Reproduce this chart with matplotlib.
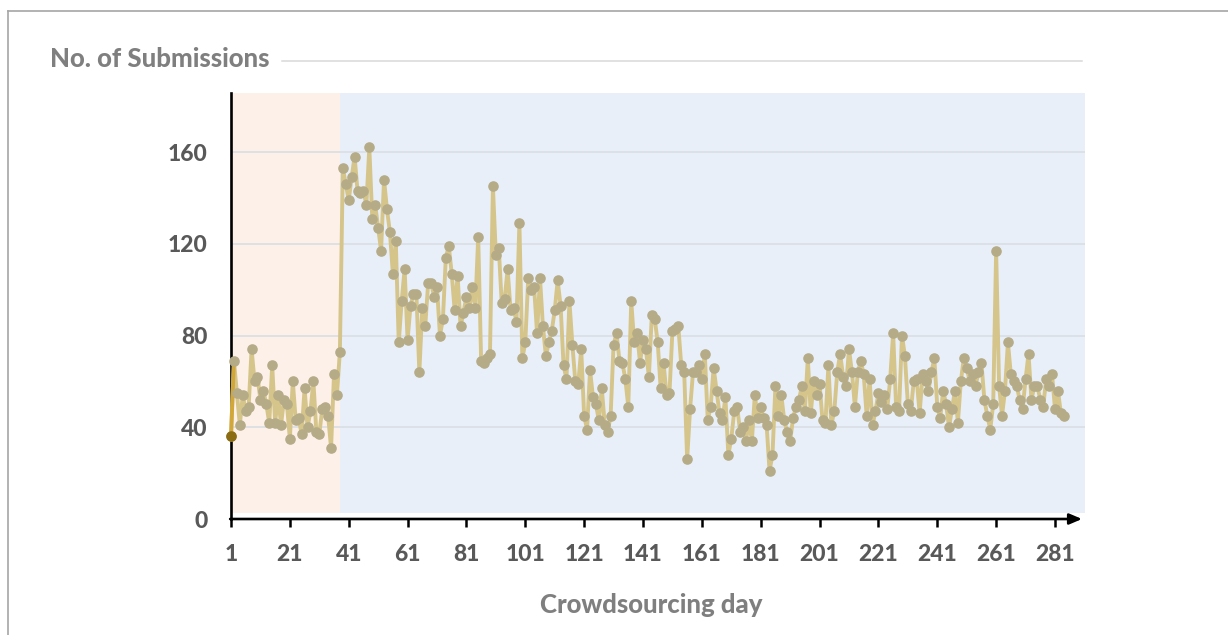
import matplotlib
matplotlib.use("Agg")
import matplotlib.pyplot as plt
from matplotlib.lines import Line2D
import numpy as np

# Daily submission counts, day 1 onwards
submissions = [
    36, 69, 55, 41, 54, 47, 49, 74, 60, 62, 52, 56, 50, 42, 67, 42, 54, 41, 52, 50,
    35, 60, 43, 44, 37, 57, 40, 47, 60, 38, 37, 48, 49, 45, 31, 63, 54, 73,
    153, 146, 139, 149, 158, 143, 142, 143, 137, 162, 131, 137, 127, 117, 148, 135,
    125, 107, 121, 77, 95, 109, 78, 93, 98, 98, 64, 92, 84, 103, 103, 97, 101, 80,
    87, 114, 119, 107, 91, 106,
    84, 90, 97, 92, 101, 92, 123, 69, 68, 70, 72,
    145, 115, 118, 94, 96, 109, 91, 92, 86, 129, 70, 77, 105, 100, 101, 81, 105, 84,
    71, 77, 82, 91, 104, 93, 67, 61, 95,
    76, 60, 59, 74, 45, 39, 65, 53, 50, 43, 57, 41, 38, 45, 76, 81, 69, 68, 61, 49,
    95, 77, 81, 68, 78, 74, 62, 89, 87, 77, 57, 68, 54, 55, 82, 83, 84, 67, 64, 26, 48,
    64, 64, 67, 61, 72, 43, 49, 66, 56, 46, 43, 53, 28, 35, 47, 49, 38, 40, 34, 43,
    34, 54, 44, 49, 44, 41, 21, 28, 58, 45, 54, 43, 38, 34, 44, 49, 52, 58, 47, 70,
    46, 60, 54, 59, 43, 42, 67, 41, 47, 64, 72, 62, 58, 74, 64, 49, 64, 69, 63, 45,
    61, 41, 47, 55, 51, 54, 48, 61, 81, 49, 47, 80, 71, 50, 47, 60, 61, 46, 63, 60,
    56, 64, 70, 49, 44, 56, 50, 40, 48, 56, 42, 60, 70, 66, 60, 63, 58, 64, 68, 52,
    45, 39, 50, 117, 58, 45, 56, 77, 63, 60, 58, 52, 48, 61, 72, 52, 58, 58, 52, 49,
    61, 58, 63, 48, 56, 46, 45,
]
days = list(range(1, len(submissions) + 1))

x_ticks = list(range(1, 282, 20))
y_ticks = [0, 40, 80, 120, 160]
phase_split = 38  # end of the first (shaded orange) phase

title_text = "No. of Submissions"
xlabel_text = "Crowdsourcing day"

FONT = "Lato"
W, H = 1228, 635
fig = plt.figure(figsize=(W / 100, H / 100), dpi=100)
fig.patch.set_facecolor("white")

# axes placement in pixels
ax_l, ax_r, ax_t, ax_b = 231, 1085, 93, 519
ax = fig.add_axes([ax_l / W, (H - ax_b) / H, (ax_r - ax_l) / W, (ax_b - ax_t) / H])
ax.set_facecolor("white")

px_per_day = (1055 - 231) / 280.0
x_max = 1 + (ax_r - ax_l) / px_per_day
px_per_unit = (519 - 152) / 160.0
y_max = (ax_b - ax_t) / px_per_unit
ax.set_xlim(1, x_max)
ax.set_ylim(0, y_max)

# phase backgrounds
ax.axvspan(1, phase_split, ymin=0.014, ymax=1, color="#FCF0E8", lw=0, zorder=0)
ax.axvspan(phase_split, x_max, ymin=0.014, ymax=1, color="#E8EFF8", lw=0, zorder=0)

for yv in y_ticks[1:]:
    ax.axhline(yv, color="#DADDE4", lw=1.2, zorder=1)

# series
ax.plot(days, submissions, color="#D5C58B", lw=2.8, zorder=3, clip_on=False,
        solid_joinstyle="round")
ax.plot(days[:2], submissions[:2], color="#D2A73A", lw=2.8, zorder=3, clip_on=False)
ax.plot(days, submissions, ls="none", marker="o", ms=6.6, mfc="#B5AB87",
        mec="#B5AB87", zorder=4, clip_on=False)
ax.plot(days[:1], submissions[:1], ls="none", marker="o", ms=6.6, mfc="#8C6C12",
        mec="#8C6C12", zorder=5, clip_on=False)

# axes lines
for s in ["top", "right", "bottom"]:
    ax.spines[s].set_visible(False)
ax.spines["left"].set_color("black")
ax.spines["left"].set_linewidth(1.9)
ax.annotate("", xy=((1082 - ax_l) / (ax_r - ax_l), 0), xytext=(-0.001, 0),
            xycoords="axes fraction", textcoords="axes fraction",
            arrowprops=dict(arrowstyle="-|>,head_length=0.75,head_width=0.32",
                            color="black", lw=1.9, shrinkA=0, shrinkB=0),
            zorder=6, annotation_clip=False)

ax.set_xticks(x_ticks)
ax.set_xticklabels([str(t) for t in x_ticks])
ax.set_yticks(y_ticks)
ax.set_yticklabels([str(t) for t in y_ticks])
ax.tick_params(axis="x", direction="out", length=6, width=1.8, color="black",
               pad=12, labelsize=16.5, labelcolor="#595959")
ax.tick_params(axis="y", length=0, pad=17, labelsize=16.5, labelcolor="#595959")
for lab in ax.get_xticklabels() + ax.get_yticklabels():
    lab.set_fontfamily(FONT)
    lab.set_fontweight("black")

# title and axis label
fig.text(50 / W, 1 - 59 / H, title_text, fontsize=18.5, fontweight="black",
         color="#7F7F7F", family=FONT, ha="left", va="center")
fig.add_artist(Line2D([282 / W, 1082 / W], [1 - 61 / H, 1 - 61 / H],
                      color="#D9D9D9", lw=1.1))
fig.text(651 / W, 1 - 605 / H, xlabel_text, fontsize=18.5, fontweight="black",
         color="#7F7F7F", family=FONT, ha="center", va="center")

# outer frame
fig.add_artist(Line2D([8 / W, 1.0], [1 - 11 / H, 1 - 11 / H], color="#A6A6A6", lw=1.2))
fig.add_artist(Line2D([8 / W, 8 / W], [0, 1 - 11 / H], color="#A6A6A6", lw=1.2))

fig.savefig("out.png", dpi=100)
